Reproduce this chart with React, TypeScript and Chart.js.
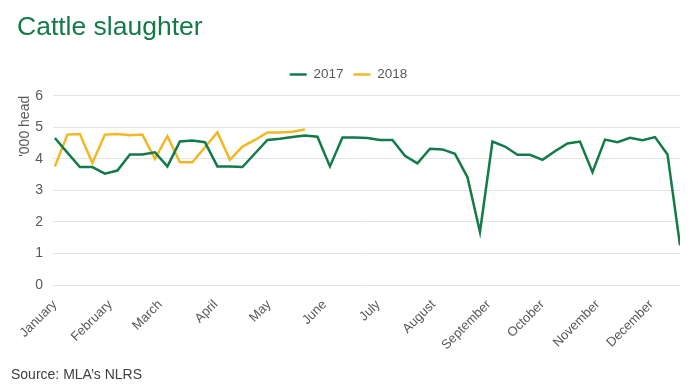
import React, { useEffect, useRef } from 'react';
import { Chart, registerables } from 'chart.js';

Chart.register(...registerables);

const monthLabels = ['January', 'February', 'March', 'April', 'May', 'June', 'July', 'August', 'September', 'October', 'November', 'December'];
// month start positions, in weeks from the first week
const monthTicks = [0, 4.43, 8.43, 12.86, 17.14, 21.57, 25.86, 30.29, 34.71, 39.0, 43.43, 47.71];
const yTicks = [0, 1, 2, 3, 4, 5, 6];

const series2017 = [
  4.66, 4.2, 3.74, 3.74, 3.53, 3.63, 4.14, 4.14, 4.21, 3.76, 4.55,
  4.58, 4.53, 3.76, 3.76, 3.74, 4.17, 4.6, 4.64, 4.69, 4.74, 4.7, 3.76,
  4.68, 4.68, 4.66, 4.6, 4.6, 4.1, 3.86, 4.32, 4.3, 4.16, 3.42,
  1.68, 4.55, 4.39, 4.13, 4.13, 3.97, 4.24, 4.49, 4.55, 3.58, 4.61,
  4.53, 4.67, 4.59, 4.69, 4.14, 1.26,
];
const series2018 = [
  3.76, 4.77, 4.79, 3.87, 4.77, 4.79, 4.75, 4.77, 4.0, 4.72, 3.89,
  3.89, 4.37, 4.84, 3.97, 4.39, 4.6, 4.84, 4.84, 4.86, 4.93,
];

const FONT = '"Liberation Sans", Arial, sans-serif';
const GREEN = '#137a49';
const YELLOW = '#f2b823';
const GREY = '#595959';

const legendSpacer = {
  id: 'legendSpacer',
  beforeLayout(chart: any) {
    const lg = chart.legend;
    if (lg && !lg._spacerPatched) {
      const orig = lg.fit.bind(lg);
      lg.fit = function () {
        orig();
        this.height += 4.5;
      };
      lg._spacerPatched = true;
    }
  },
};

const sourceNote = {
  id: 'sourceNote',
  afterDraw(chart: any) {
    const ctx = chart.ctx;
    ctx.save();
    ctx.font = `14px ${FONT}`;
    ctx.fillStyle = '#404040';
    ctx.textAlign = 'left';
    ctx.textBaseline = 'alphabetic';
    ctx.fillText('Source: MLA\u2019s NLRS', 11, 379);
    ctx.restore();
  },
};

export default function App() {
  const ref = useRef<HTMLCanvasElement | null>(null);

  useEffect(() => {
    if (!ref.current) return;
    const chart = new Chart(ref.current, {
      type: 'line',
      data: {
        datasets: [
          {
            label: '2017',
            data: series2017.map((v, i) => ({ x: i, y: v })),
            borderColor: GREEN,
            backgroundColor: GREEN,
            borderWidth: 2.5,
            pointRadius: 0,
            tension: 0,
          },
          {
            label: '2018',
            data: series2018.map((v, i) => ({ x: i, y: v })),
            borderColor: YELLOW,
            backgroundColor: YELLOW,
            borderWidth: 2.5,
            pointRadius: 0,
            tension: 0,
          },
        ],
      },
      options: {
        responsive: false,
        animation: false,
        events: [],
        layout: { padding: { left: 17, right: 20, top: 0, bottom: 36 } },
        plugins: {
          title: {
            display: true,
            text: 'Cattle slaughter',
            align: 'start',
            color: GREEN,
            font: { family: FONT, size: 26.5, weight: 'normal' },
            padding: { top: 12, bottom: 14 },
          },
          legend: {
            display: true,
            position: 'top',
            align: 'center',
            labels: {
              usePointStyle: true,
              pointStyle: 'line',
              pointStyleWidth: 17,
              color: GREY,
              padding: 10,
              font: { family: FONT, size: 13.5 },
            },
          },
          tooltip: { enabled: false },
        },
        scales: {
          x: {
            type: 'linear',
            min: -0.15,
            max: 50,
            afterFit(scale: any) {
              scale.height = 70;
            },
            afterBuildTicks(scale: any) {
              scale.ticks = monthTicks.map((v) => ({ value: v }));
            },
            grid: { display: false },
            border: { display: false },
            ticks: {
              autoSkip: false,
              minRotation: 45,
              maxRotation: 45,
              padding: 4,
              color: GREY,
              font: { family: FONT, size: 13 },
              callback: (_v: any, i: number) => monthLabels[i],
            },
          },
          y: {
            min: 0,
            max: 6,
            afterFit(scale: any) {
              scale.width = 36;
            },
            afterBuildTicks(scale: any) {
              scale.ticks = yTicks.map((v) => ({ value: v }));
            },
            grid: { color: '#e3e3e3', lineWidth: 1, drawTicks: false },
            border: { display: false },
            ticks: {
              padding: 10,
              color: GREY,
              font: { family: FONT, size: 14 },
            },
            title: {
              display: true,
              text: "'000 head",
              align: 'end',
              color: GREY,
              font: { family: FONT, size: 14 },
              padding: { top: 0, bottom: 0 },
            },
          },
        },
      },
      plugins: [legendSpacer, sourceNote],
    } as any);
    return () => chart.destroy();
  }, []);

  return (
    <div style={{ position: 'absolute', left: 0, top: 0, width: 700, height: 391, background: '#fff' }}>
      <canvas ref={ref} width={700} height={391} style={{ display: 'block', width: 700, height: 391 }} />
    </div>
  );
}
